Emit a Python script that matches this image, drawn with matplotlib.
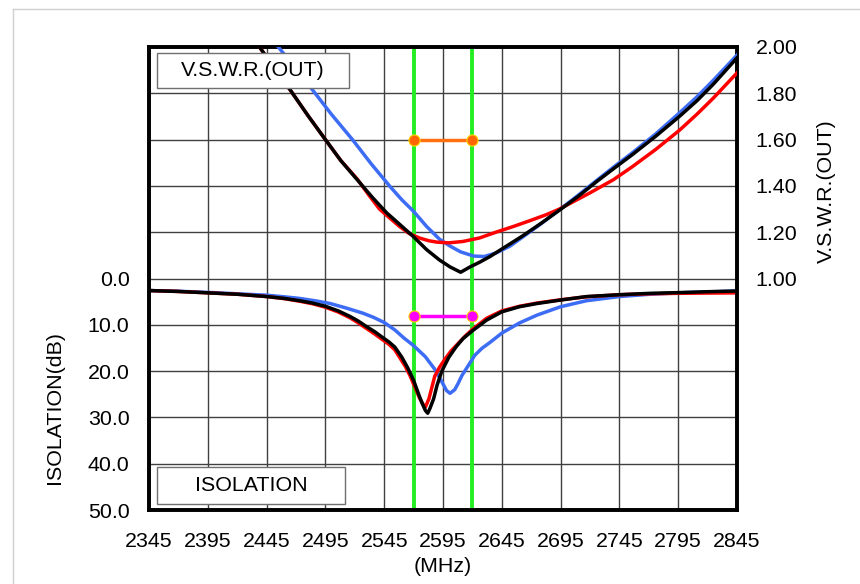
import matplotlib
matplotlib.use("Agg")
import matplotlib.pyplot as plt
from matplotlib.lines import Line2D
from matplotlib.patches import Rectangle

plt.rcParams["font.family"] = ["Liberation Sans", "DejaVu Sans"]

# frequency axis (MHz)
freq_ticks = [2345, 2395, 2445, 2495, 2545, 2595, 2645, 2695, 2745, 2795, 2845]
band = [2570, 2620]

# V.S.W.R.(OUT) curves
vswr_black_f = [2430, 2439, 2452, 2465, 2480, 2495, 2508, 2522, 2535, 2547, 2559, 2570,
                2581, 2592, 2601, 2610, 2618, 2626, 2635, 2649, 2663, 2678, 2694, 2710,
                2726, 2741, 2756, 2776, 2796, 2811, 2825, 2845]
vswr_black = [2.05, 2.00, 1.905, 1.815, 1.705, 1.60, 1.51, 1.427, 1.35, 1.284, 1.23, 1.18,
              1.125, 1.08, 1.05, 1.027, 1.05, 1.07, 1.095, 1.14, 1.185, 1.237, 1.295, 1.355,
              1.42, 1.478, 1.535, 1.615, 1.70, 1.768, 1.84, 1.953]

vswr_red_f = [2430, 2439, 2452, 2465, 2480, 2495, 2508, 2522, 2532, 2541, 2550, 2558,
              2566, 2575, 2583, 2590, 2600, 2612, 2626, 2640, 2655, 2669, 2683, 2694,
              2707, 2720, 2740, 2756, 2776, 2796, 2811, 2825, 2845]
vswr_red = [2.05, 2.00, 1.905, 1.815, 1.705, 1.60, 1.51, 1.43, 1.36, 1.30, 1.26, 1.225,
            1.195, 1.175, 1.163, 1.157, 1.154, 1.16, 1.175, 1.20, 1.225, 1.25, 1.276, 1.30,
            1.335, 1.37, 1.427, 1.483, 1.558, 1.64, 1.71, 1.78, 1.888]

vswr_blue_f = [2448, 2455, 2470, 2484, 2500, 2518, 2534, 2550, 2560, 2570, 2581, 2592,
               2601, 2610, 2621, 2630, 2640, 2652, 2663, 2678, 2694, 2710, 2726, 2741,
               2756, 2776, 2796, 2811, 2825, 2845]
vswr_blue = [2.04, 2.00, 1.905, 1.815, 1.71, 1.60, 1.495, 1.397, 1.34, 1.29, 1.225, 1.17,
             1.14, 1.115, 1.097, 1.095, 1.11, 1.14, 1.18, 1.235, 1.297, 1.36, 1.425, 1.485,
             1.543, 1.625, 1.715, 1.785, 1.857, 1.965]

# ISOLATION curves (dB)
iso_black_f = [2345, 2370, 2395, 2420, 2445, 2460, 2473, 2484, 2495, 2506, 2516, 2523,
               2530, 2537, 2544, 2549, 2554, 2560, 2565, 2570, 2574, 2577, 2580, 2582,
               2584, 2587, 2590, 2594, 2600, 2606, 2612, 2620, 2632, 2645, 2660, 2675,
               2695, 2717, 2745, 2771, 2795, 2820, 2845]
iso_black = [2.6, 2.8, 3.1, 3.4, 3.9, 4.3, 4.8, 5.3, 6.0, 7.0, 8.2, 9.2,
             10.4, 11.5, 12.8, 13.7, 14.8, 17.0, 19.3, 22.0, 24.8, 26.8, 28.5, 29.1,
             28.0, 26.0, 23.0, 20.0, 17.0, 14.8, 13.0, 11.3, 9.0, 7.2, 6.1, 5.4,
             4.65, 3.9, 3.5, 3.2, 3.05, 2.85, 2.7]

iso_red_f = [2345, 2370, 2395, 2420, 2445, 2460, 2473, 2484, 2495, 2506, 2516, 2523,
             2530, 2537, 2544, 2549, 2554, 2559, 2563, 2567, 2570, 2575, 2579, 2580,
             2583, 2588, 2592, 2597, 2602, 2608, 2614, 2620, 2632, 2645, 2660, 2675,
             2695, 2717, 2745, 2771, 2795, 2820, 2845]
iso_red = [2.6, 2.8, 3.1, 3.4, 3.9, 4.35, 4.9, 5.45, 6.2, 7.25, 8.5, 9.6,
           10.8, 12.0, 13.3, 14.2, 15.4, 17.4, 19.0, 21.0, 22.8, 25.8, 27.6, 27.8,
           26.0, 21.1, 19.2, 17.3, 15.6, 14.0, 12.4, 11.0, 8.6, 7.0, 6.0, 5.3,
           4.6, 3.95, 3.5, 3.3, 3.2, 3.15, 3.1]

iso_blue_f = [2345, 2370, 2395, 2420, 2445, 2460, 2473, 2486, 2499, 2513, 2527, 2536,
              2545, 2554, 2562, 2570, 2580, 2588, 2594, 2598, 2601, 2605, 2608, 2611,
              2618, 2622, 2628, 2635, 2645, 2660, 2675, 2695, 2717, 2745, 2771, 2795,
              2820, 2845]
iso_blue = [2.6, 2.75, 3.0, 3.3, 3.6, 3.95, 4.3, 4.8, 5.4, 6.4, 7.5, 8.4,
            9.5, 11.1, 12.9, 14.5, 16.9, 19.6, 22.3, 24.2, 24.8, 24.0, 22.6, 21.0,
            18.2, 16.6, 15.1, 13.8, 11.8, 9.6, 7.9, 6.1, 4.8, 3.9, 3.4, 3.1,
            2.9, 2.7]

vswr_spec = 1.60
iso_spec = 8.0

iso_ticks = [-50, -40, -30, -20, -10, 0, 10, 20, 30, 40, 50]
vswr_ticks = [0.0, 0.2, 0.4, 0.6, 0.8, 1.0, 1.2, 1.4, 1.6, 1.8, 2.0]

BLUE = "#3D6CF5"
GREEN = "#22EE22"
FS = 15.4

fig = plt.figure(figsize=(8.6, 5.84), dpi=100)
ax = fig.add_axes([149 / 860, 1 - 510 / 584, 588 / 860, 463 / 584])
ax2 = ax.twinx()

# isolation side
ax.set_xlim(2345, 2845)
ax.set_ylim(50, -50)
ax.set_xticks(freq_ticks)
ax.set_xticklabels([str(f) for f in freq_ticks])
ax.set_yticks(iso_ticks)
ax.set_yticklabels([f"{t:.1f}" if t >= 0 else "" for t in iso_ticks])
ax.grid(True, color="#404040", lw=1.0)
ax.set_axisbelow(True)
ax.tick_params(length=0, labelsize=FS)
ax.tick_params(axis="y", pad=14)
ax.tick_params(axis="x", pad=16)

for f in band:
    ax.axvline(f, color=GREEN, lw=2.8, zorder=2)

ax.plot(iso_blue_f, iso_blue, color=BLUE, lw=2.5, zorder=3)
ax.plot(iso_red_f, iso_red, color="red", lw=2.5, zorder=3)
ax.plot(iso_black_f, iso_black, color="black", lw=2.5, zorder=4)
ax.plot(band, [iso_spec, iso_spec], color="#FF00FF", lw=2.5, marker="o", ms=8,
        mec="#FFD700", mew=0.8, zorder=5)

# vswr side
ax2.set_ylim(0, 2.0)
ax2.set_yticks(vswr_ticks)
ax2.set_yticklabels([f"{t:.2f}" if t >= 1.0 else "" for t in vswr_ticks])
ax2.tick_params(length=0, labelsize=FS, pad=13.5)

ax2.plot(vswr_blue_f, vswr_blue, color=BLUE, lw=2.5, zorder=3)
ax2.plot(vswr_red_f, vswr_red, color="red", lw=2.5, zorder=3)
ax2.plot(vswr_black_f, vswr_black, color="black", lw=2.5, zorder=4)
ax2.plot(band, [vswr_spec, vswr_spec], color="#FF7010", lw=2.5, marker="o", ms=8,
         mfc="#FF6600", mec="#FFD700", mew=0.8, zorder=5)

for a in (ax, ax2):
    for s in a.spines.values():
        s.set_linewidth(2.6)
        s.set_color("black")

# caption boxes
for (x0, y0, x1, y1, txt) in [(157, 53, 349, 88, "V.S.W.R.(OUT)"),
                              (157, 467, 345, 504, "ISOLATION")]:
    bx0 = (x0 - 149) / 588
    by0 = (510 - y1) / 463
    ax2.add_patch(Rectangle((bx0, by0), (x1 - x0) / 588, (y1 - y0) / 463,
                            transform=ax2.transAxes, facecolor="white",
                            edgecolor="#707070", lw=1.0, zorder=10))
    ax2.text(bx0 + (x1 - x0) / 588 / 2, by0 + (y1 - y0) / 463 / 2, txt,
             transform=ax2.transAxes, ha="center", va="center", fontsize=FS,
             zorder=11)

# axis titles
fig.text(54 / 860, 1 - 408 / 584, "ISOLATION(dB)", rotation=90, ha="center",
         va="center", fontsize=FS)
fig.text(826 / 860, 1 - 191 / 584, "V.S.W.R.(OUT)", rotation=90, ha="center",
         va="center", fontsize=FS)
fig.text(443 / 860, 1 - 566 / 584, "(MHz)", ha="center", va="center", fontsize=FS)

# faint outer frame
fig.add_artist(Line2D([12.5 / 860, 12.5 / 860], [0, 1 - 9 / 584], color="#D0D0D0",
                      lw=1.0, transform=fig.transFigure))
fig.add_artist(Line2D([12.5 / 860, 1], [1 - 9 / 584, 1 - 9 / 584], color="#D0D0D0",
                      lw=1.0, transform=fig.transFigure))

fig.savefig("out.png", dpi=100)
